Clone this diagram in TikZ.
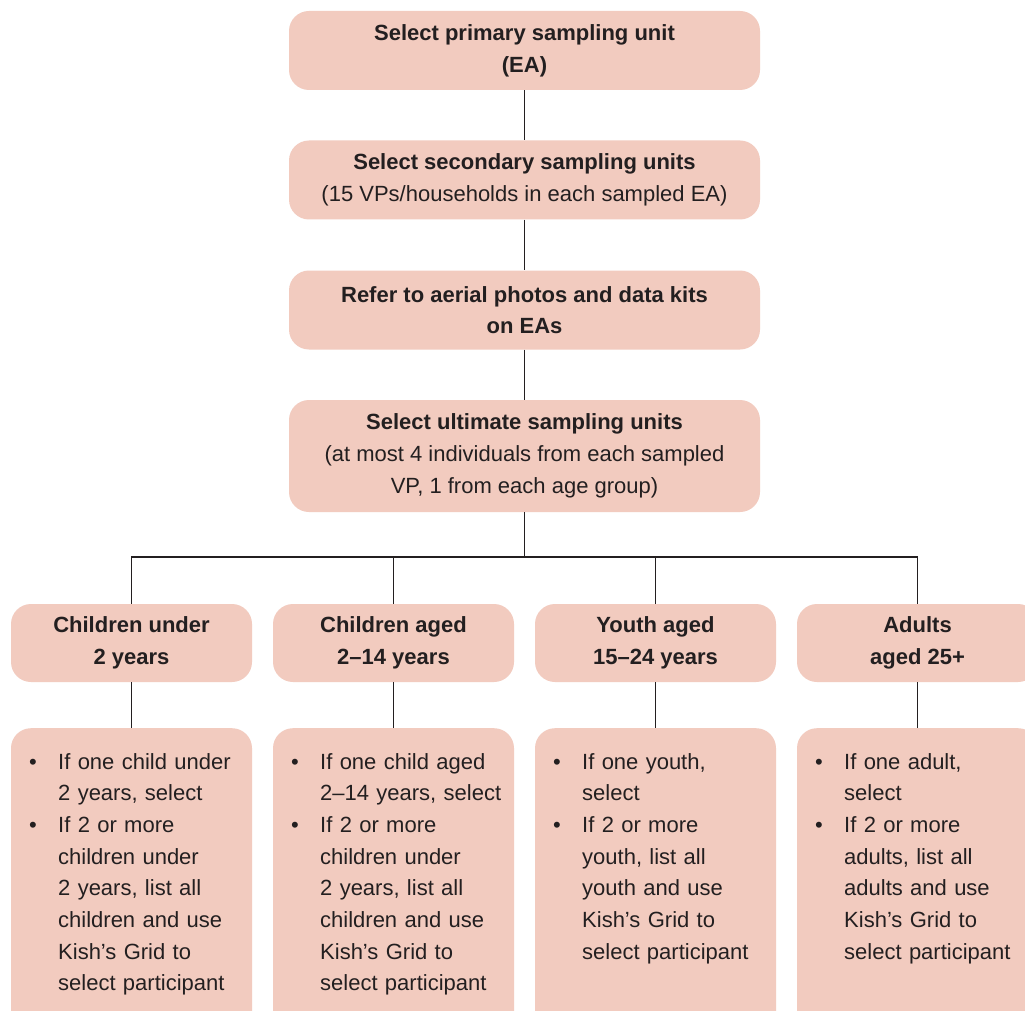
\documentclass[tikz,border=0pt]{standalone}
\usepackage{fontspec}
\setmainfont{Liberation Sans}
\definecolor{boxfill}{RGB}{242,203,191}
\definecolor{ink}{RGB}{35,31,32}
\begin{document}
\begin{tikzpicture}[x=1pt,y=-1pt,
  every node/.style={text=ink},
  titlebox/.style={fill=boxfill, rounded corners=20pt, inner sep=0pt,
    minimum width=471pt, align=center, font=\fontsize{22}{31.7}\selectfont},
  agebox/.style={fill=boxfill, rounded corners=20pt, inner sep=0pt,
    minimum width=241pt, minimum height=78pt, align=center, font=\fontsize{22}{31.7}\selectfont\bfseries},
  rulebox/.style={fill=boxfill, rounded corners=20pt, inner sep=0pt,
    minimum width=241pt, minimum height=310pt},
  listtext/.style={inner sep=0pt, anchor=base west, text width=215pt, align=left,
    font=\fontsize{22}{31.7}\selectfont},
  conn/.style={draw=ink, line width=1.1pt}]
\clip (0,0) rectangle (1025,1011);
\fill[white] (0,0) rectangle (1025,1011);
\newcommand{\bul}{\makebox[29pt][l]{\textbullet}}
\newcommand{\ind}{\hspace*{29pt}}

% title boxes
\node[titlebox, minimum height=79pt] (t1) at (524.5,50.5) {\textbf{Select primary sampling unit}\\\textbf{(EA)}};
\node[titlebox, minimum height=79pt] (t2) at (524.5,180) {\textbf{Select secondary sampling units}\\(15 VPs/households in each sampled EA)};
\node[titlebox, minimum height=79pt] (t3) at (524.5,310) {\textbf{Refer to aerial photos and data kits}\\\textbf{on EAs}};
\node[titlebox, minimum height=112pt] (t4) at (524.5,456) {\textbf{Select ultimate sampling units}\\(at most 4 individuals from each sampled\\VP, 1 from each age group)};

% age boxes
\node[agebox] (a1) at (131.5,643) {Children under\\2 years};
\node[agebox] (a2) at (393.5,643) {Children aged\\2–14 years};
\node[agebox] (a3) at (655.5,643) {Youth aged\\15–24 years};
\node[agebox] (a4) at (917.5,643) {Adults\\aged 25+};

% rule boxes
\node[rulebox, anchor=north] (b1) at (131.5,728) {};
\node[rulebox, anchor=north] (b2) at (393.5,728) {};
\node[rulebox, anchor=north] (b3) at (655.5,728) {};
\node[rulebox, anchor=north] (b4) at (917.5,728) {};

\node[listtext] (l1) at (29,769) {\bul If one child under\\\ind 2 years, select\\\bul If 2 or more\\\ind children under\\\ind 2 years, list all\\\ind children and use\\\ind Kish’s Grid to\\\ind select participant};
\node[listtext] (l2) at (291,769) {\bul If one child aged\\\ind 2–14 years, select\\\bul If 2 or more\\\ind children under\\\ind 2 years, list all\\\ind children and use\\\ind Kish’s Grid to\\\ind select participant};
\node[listtext] (l3) at (553,769) {\bul If one youth,\\\ind select\\\bul If 2 or more\\\ind youth, list all\\\ind youth and use\\\ind Kish’s Grid to\\\ind select participant};
\node[listtext] (l4) at (815,769) {\bul If one adult,\\\ind select\\\bul If 2 or more\\\ind adults, list all\\\ind adults and use\\\ind Kish’s Grid to\\\ind select participant};

% connectors
\coordinate (bus) at (524.5,557);
\draw[conn] (t1.south) -- (t2.north);
\draw[conn] (t2.south) -- (t3.north);
\draw[conn] (t3.south) -- (t4.north);
\draw[conn] (t4.south) -- (bus);
\draw[conn] (a1.north) |- (bus) -| (a4.north);
\draw[conn] (a2.north) -- (a2.north |- bus);
\draw[conn] (a3.north) -- (a3.north |- bus);
\draw[conn] (a1.south) -- (b1.north);
\draw[conn] (a2.south) -- (b2.north);
\draw[conn] (a3.south) -- (b3.north);
\draw[conn] (a4.south) -- (b4.north);
\end{tikzpicture}
\end{document}
